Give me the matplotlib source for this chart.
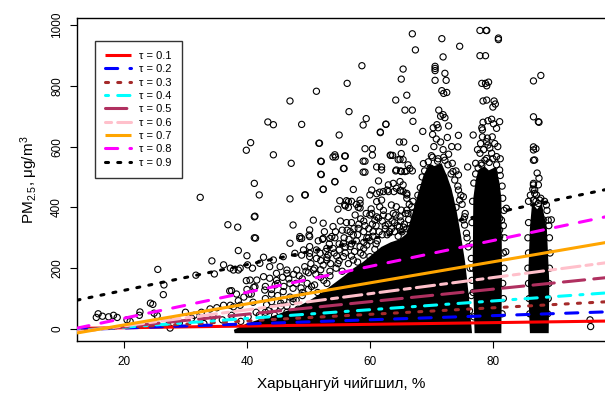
import matplotlib
matplotlib.use("Agg")
import matplotlib.pyplot as plt
import numpy as np

plt.rcParams['font.family'] = ['Liberation Sans', 'DejaVu Sans']
plt.rcParams['mathtext.default'] = 'regular'

# ---------------- data ----------------
taus = [0.1, 0.2, 0.3, 0.4, 0.5, 0.6, 0.7, 0.8, 0.9]
intercepts = [-1.5, -10.4, -16.3, -22.8, -33.5, -42.9, -55.9, -49.9, 42.5]
slopes = [0.28, 0.678, 1.075, 1.437, 2.056, 2.65, 3.46, 4.26, 4.23]
line_colors = ['#FF0000', '#0000FF', '#A52A2A', '#00FFFF', '#B03060',
               '#FFC0CB', '#FFA500', '#FF00FF', '#000000']
line_dashes = [None, (4, 4), (1, 3), (1, 3, 4, 3), (7, 3), (2, 2, 6, 2),
               None, (4, 4), (1, 3)]

# overplotted (solid black) regions of the scatter, as (humidity, PM2.5) outlines
dense_main_x = [38, 40, 42, 44, 46, 48, 50, 52, 54, 56, 57.5, 59, 60.5, 62, 63.5, 65, 66.2, 67.2,
                68.2, 69, 69.8, 70.5, 71.5, 72.3, 73, 73.8, 74.5, 75.2, 75.8, 76.3, 38]
dense_main_y = [-8, 12, 25, 35, 50, 65, 85, 110, 140, 170, 195, 215, 240, 265, 280, 290, 310, 380,
                450, 505, 535, 530, 538, 500, 460, 390, 310, 220, 110, -8, -8]
dense_col2_x = [77.3, 77.0, 77.1, 77.5, 77.9, 78.6, 79.3, 80.3, 80.8, 81.1, 81.2, 81.1]
dense_col2_y = [-8, 200, 430, 490, 520, 528, 515, 525, 480, 430, 200, -8]
dense_col3_x = [86.3, 86.0, 86.3, 86.6, 87.2, 87.8, 88.5, 88.9, 88.8]
dense_col3_y = [-8, 150, 330, 400, 385, 400, 330, 150, -8]

# individually visible observations (humidity %, PM2.5)
pts_left = [(39.9,588),(40.6,613),(41.2,479),(32.4,433),(41.2,369),(36.9,343),(38.5,335),(41.2,300),
    (38.6,258),(40.0,241),(34.3,224),(36.2,211),(37.3,200),(37.8,194),(38.6,194),(38.9,200),(40.9,200),
    (40.1,211),(25.5,196),(31.7,177),(34.7,181),(26.5,145),(26.4,113),(39.9,159),(41.1,137),(37.2,125),
    (38.3,115),(39.5,105),(40.3,115),(15.8,50),(16.5,42),(15.5,38),(17.5,40),(18.3,45),(18.9,38),
    (20.5,30),(21.0,25),(22.6,56),(22.5,45),(24.9,52),(24.3,85),(25.4,44),(27.3,28),(27.5,3),(24.7,81),
    (30.0,55),(31.4,45),(32.6,55),(34.0,66),(35.1,70),(36.2,78),(37.3,78),(37.8,73),(38.9,78),(41.0,88),
    (40.7,115),(29,20),(31,35),(33,18),(34.5,40),(36,30),(37.5,45),(39,25),(40.2,40),(41.5,55),
    (37.5,126),(38.6,93),(40.0,130),(41.3,371),(41.4,299),(42.0,441),(40.5,161),(41.6,161),(41.3,139)]
pts_mid = [(42.7,236),(44.3,227),(45.9,238),(47.8,249),(49.2,260),(50.2,249),(42.1,216),(43.7,205),
    (45.4,205),(46.5,194),(51.3,232),(53.0,227),(42.7,172),(43.7,167),(44.8,183),(46.5,183),(48.1,194),
    (42.9,128),(44.6,145),(45.9,123),(47.5,134),(42.5,30),(43.5,60),(44.5,45),(45.5,75),(46.5,55),
    (47.5,90),(48.3,65),(52.0,509),(54.3,484),(47.0,428),(49.4,441),(52.4,460),(47.5,342),(47.0,282),
    (48.6,298),(50.1,309),(52.3,295),(53.5,298),(54.8,394),(56.0,405),(56.5,419),(57.8,410),(58.4,398),
    (60.0,441),(61.1,445),(61.6,450),(62.8,457),(63.9,452),(65.0,455),(66.0,446),(57.0,350),(58.5,362),
    (59.2,340),(60.0,375),(60.8,358),(55.5,325),(56.3,325),
    (66.9,971),(67.4,918),(58.7,866),(65.4,855),(65.1,822),(56.3,808),(51.3,782),(47.0,750),(64.2,753),
    (66.0,769),(65.7,720),(66.9,720),(56.6,715),(59.4,692),(58.9,671),(43.4,681),(44.3,672),(48.9,673),
    (62.6,673),(67.0,683),(61.7,648),(55.0,638),(51.7,611),(64.8,615),(65.5,615),(59.2,593),(60.4,593),
    (67.4,594),(44.3,573),(47.2,545),(52.0,552),(54.0,566),(54.4,566),(56.0,569),(58.9,552),(59.2,552),
    (63.4,571),(63.7,571),(65.1,577),(64.6,557),(65.4,557),(66.2,540),(52.1,508),(55.8,528),(58.9,516),
    (59.2,516),(61.1,533),(61.9,533),(64.2,520),(65.0,520),(66.0,520),(66.9,520),
    (62.6,674),(61.7,646),(51.8,611),(54.3,573),(55.9,569),(52.1,551),(60.4,572),(63.3,572),(64.9,558),
    (55.7,528),(61.9,523),(64.3,523),(65.1,518),(65.7,518),(66.5,528),(54.3,485),(52.4,459),(57.3,459),
    (61.4,487),(63.0,474),(63.8,479),(64.9,485),(65.4,474),(60.3,457),(62.2,452),(63.0,452),(64.3,463),
    (64.9,455),(65.4,452),(66.0,441),(66.0,430),(49.5,441),(55.1,422),(56.2,422),(57.0,420),(58.4,424),
    (55.9,408),(56.5,400),(58.1,400),(58.4,413),(61.9,424),(61.1,419),(61.6,402),(63.5,408),(64.3,402),
    (65.1,391),(66.0,391),(66.8,402),(67.0,380),(67.6,358),(60.3,380),(61.1,369),(62.2,375),(63.0,369),
    (63.8,380),(64.9,369),(48.9,298),(50.2,304),(52.4,298),(53.8,304),(54.3,300),(50.2,271),(51.3,260),
    (53.0,265),(56.8,320),(58.1,331),(57.3,309),(55.7,282),(56.8,271),(58.4,271),(59.5,276),(48.9,243),
    (50.2,238),(51.9,249),(53.2,243),(54.6,240),(55.7,238),(57.3,227),(58.9,243),(60.0,238),(49.4,205),
    (50.8,194),(52.4,210),(50.8,358),(52.4,348),(50.2,326),(54.0,337),(48.6,304),
    (59.8,300),(60.5,320),(61.2,290),(62.5,340),(63.2,320),(64.0,350),(64.8,335),(65.6,345),(66.3,360),
    (62.0,355),(59.0,285),(60.8,262),(57.8,290),(56.0,250),(54.8,215),(53.5,190),(52.0,170),(50.5,140),
    (49.0,120),(47.5,100),(46.0,95),(45.0,110),(44.0,90),(43.0,100)]
pts_mid_edge = [(42,45),(43,55),(44.5,70),(45.5,85),(46.5,75),(47,105),(48,95),(49,110),(50,130),
    (51,145),(51.5,120),(52.5,160),(53,150),(53.5,175),(54.5,200),(55.5,190),(55,225),(56.5,215),
    (57,240),(57.5,255),(58,220),(58.5,250),(59,265),(59.5,300),(60,290),(60.5,305),(61,280),(61.5,320),
    (62,310),(62.5,330),(63,345),(63.5,330),(64,320),(64.5,340),(65,355),(65.5,335),(66,330),(61,340),
    (59,320),(58,310),(57,280),(56,270),(55,260),(54,265),(53,235),(52,225),(51,200),(50,185),(49,165),
    (48,150),(47,150),(46,140),(45,150),(44,130),(43,140),
    (46.8,165),(47.6,180),(48.5,175),(49.6,190),(50.4,215),(51.2,180),(52.0,195),(52.8,255),(53.6,215),
    (54.2,250),(55.0,280),(55.8,300),(56.6,295),(57.4,330),(58.2,345),(59.0,355),(59.8,330),(60.4,345),
    (61.4,365),(62.2,390),(62.8,310),(63.6,355),(64.2,375),(64.6,305),(65.2,320),(65.8,380),(66.4,410),
    (60.2,395),(59.4,380),(57.6,375),(56.2,350),(55.2,355),(54.4,320),(53.4,280),(52.6,320),(51.6,290),
    (45.8,170),(44.8,160),(44.0,115),(43.2,80),(49.8,150),(48.8,135)]
pts_col1 = [(68.6,650),(68.7,544),(71.7,955),(74.6,930),(71.9,895),(70.6,864),(70.6,857),(70.6,850),
    (72.2,841),(72.4,818),(70.6,818),(71.7,784),(72.0,775),(72.5,778),(71.2,720),(71.9,705),(71.5,700),
    (72.2,695),(72.8,668),(70.9,672),(70.3,662),(71.1,662),(74.4,637),(74.3,599),(75.9,533),(70.2,640),
    (70.8,625),(71.5,615),(72.6,630),(73.3,600),(70.4,600),(71.9,590),(72.8,575),(70.0,570),(71.1,560),
    (72.2,555),(73.4,545),(69.8,530),(74.0,520),(73.5,518),(74.4,507),(69.2,479),(68.7,413),(68.1,402),
    (74.4,457),(74.6,424),(75.2,359),(75.4,342),(76.5,232),(75.2,435),(75.7,315),(75.4,369),
    (66.5,330),(67.2,350),(67.0,420),(67.8,440),(68.2,465),(68.5,500),(68.9,520),(69.5,550),(70.2,565),
    (71.0,552),(72.0,565),(72.7,540),(73.2,510),(73.8,490),(74.3,470),(74.8,440),(75.0,410),(75.5,380),
    (75.8,300),(76.0,270),(76.3,200),(76.6,160),(76.5,110),(76.2,60),(66.2,380),(66.8,300),(65.8,290),
    (74.0,400),(73.0,430),(72.0,500),(70.0,510)]
pts_col2 = [(77.9,982),(78.9,982),(79.0,982),(80.9,957),(80.9,952),(77.9,899),(78.8,899),(78.2,808),
    (78.8,808),(79.3,812),(79.0,800),(78.4,750),(79.0,753),(80.2,750),(80.4,740),(80.0,730),(78.4,680),
    (79.2,685),(80.1,675),(79.8,690),(78.2,662),(78.3,632),(79.1,628),(79.9,632),(79.0,616),(79.2,605),
    (79.8,578),(79.0,561),(80.6,660),(81.1,682),(76.8,638),(78.3,655),(77.9,578),(78.2,539),(80.6,567),
    (81.1,523),(81.1,364),(81.4,358),(82.2,397),(81.1,326),(82.1,254),(81.1,304),(80.6,326),(80.8,600),
    (81.2,560),(77.5,590),(77.2,545),
    (76.9,480),(77.2,510),(77.6,530),(78.1,545),(78.7,555),(79.4,548),(80.0,560),(80.6,540),(81.2,505),
    (81.5,470),(81.6,430),(81.8,390),(81.7,340),(81.9,300),(81.7,250),(81.8,200),(81.6,150),(81.7,100),
    (81.5,50),(76.7,420),(76.6,350),(76.7,280),(76.7,200),(76.8,120),(76.9,40),(78.5,590),(79.5,595),
    (80.3,610),(78.0,610)]
pts_col3 = [(86.6,816),(87.8,834),(86.6,698),(87.5,680),(86.6,599),(87.0,593),(86.6,555),(87.2,513),
    (86.6,589),(86.8,556),(87.5,496),(86.6,479),(86.8,446),(87.6,424),(87.4,682),(87.6,370),(88.7,408),
    (89.0,358),(86.6,474),(87.4,474),(86.8,457),(87.1,441),(86.6,424),(87.4,413),(88.2,359),(89.5,359),
    (95.8,30),(95.9,8),
    (85.8,420),(86.1,440),(86.5,460),(87.0,420),(87.8,430),(88.4,420),(88.8,390),(89.1,340),(89.2,300),
    (89.3,250),(89.2,200),(89.1,150),(89.0,100),(88.9,50),(85.8,350),(85.7,300),(85.8,250),(85.7,200),
    (85.8,150),(85.9,100),(86.0,50)]

xticks = [20, 40, 60, 80]
yticks = [0, 200, 400, 600, 800, 1000]
xlabel = 'Харьцангуй чийгшил, %'
ylabel = 'PM$_{2.5}$, μg/m$^3$'

# ---------------- figure ----------------
fig = plt.figure(figsize=(6.05, 3.96), dpi=100)
ax = fig.add_axes([77/605, 55/396, 529/605, 323/396])
ax.set_xlim(12.36, 98.4)
ax.set_ylim(-39.5, 1023)

for px, py in [(dense_main_x, dense_main_y), (dense_col2_x, dense_col2_y), (dense_col3_x, dense_col3_y)]:
    ax.fill(px, py, color='black', lw=2.5, zorder=1)

allpts = pts_left + pts_mid + pts_mid_edge + pts_col1 + pts_col2 + pts_col3
xs = [p[0] for p in allpts]
ys = [p[1] for p in allpts]
ax.scatter(xs, ys, s=20, facecolors='none', edgecolors='black', linewidths=0.8, zorder=2)

xx = np.array(ax.get_xlim())
handles = []
for t, a, b, c, d in zip(taus, intercepts, slopes, line_colors, line_dashes):
    ln, = ax.plot(xx, a + b * xx, color=c, lw=2.2, zorder=3, solid_capstyle='butt',
                  dash_capstyle='round', label=f'τ = {t}')
    if d is not None:
        ln.set_dashes(d)
    handles.append(ln)

ax.set_xticks(xticks)
ax.set_yticks(yticks)
ax.set_yticklabels([str(v) for v in yticks], rotation=90, va='center')
ax.tick_params(axis='both', direction='out', length=5, width=0.8, labelsize=8.5, colors='black')
ax.tick_params(axis='x', pad=6)
ax.tick_params(axis='y', pad=5)
for s in ax.spines.values():
    s.set_linewidth(1.0)
ax.set_xlabel(xlabel, fontsize=11, labelpad=6)
ax.set_ylabel(ylabel, fontsize=11, labelpad=8)

leg = ax.legend(handles=handles, loc='upper left', bbox_to_anchor=(0.034, 0.929),
                borderaxespad=0, fontsize=8, frameon=True, fancybox=False,
                handlelength=2.3, labelspacing=0.3, handletextpad=0.8,
                borderpad=0.9)
leg.get_frame().set_edgecolor('black')
leg.get_frame().set_linewidth(1.0)
leg.set_zorder(5)

fig.savefig('out.png', dpi=100)
